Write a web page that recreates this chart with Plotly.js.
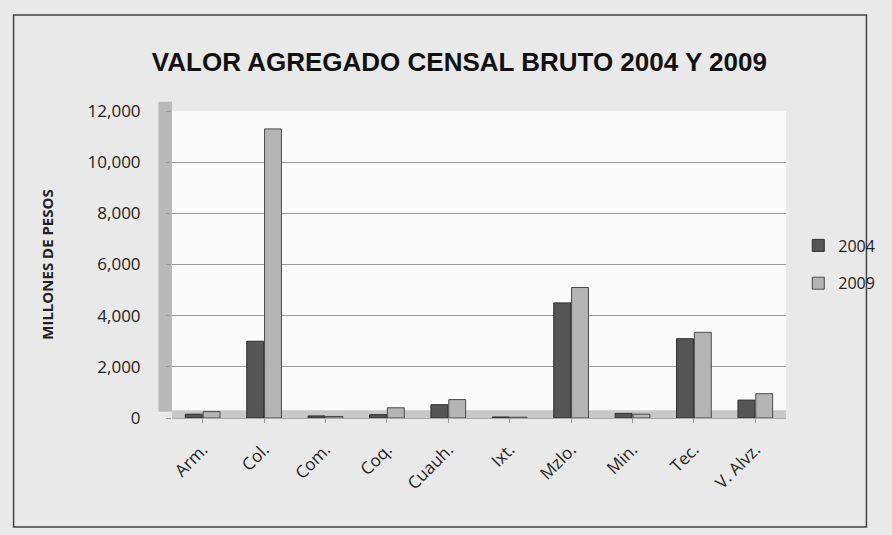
<!DOCTYPE html>
<html>
<head>
<meta charset="utf-8">
<script src="https://cdn.plot.ly/plotly-3.0.1.min.js"></script>
<style>html,body{margin:0;padding:0;background:#e9e9e9;}#chart{width:892px;height:535px;}</style>
</head>
<body>
<div id="chart"></div>
<script>
const categories = ["Arm.", "Col.", "Com.", "Coq.", "Cuauh.", "Ixt.", "Mzlo.", "Min.", "Tec.", "V. Alvz."];
const values2004 = [150, 3000, 80, 130, 520, 40, 4500, 180, 3100, 700];
const values2009 = [250, 11300, 60, 400, 720, 30, 5100, 150, 3350, 950];
const yTicks = [0, 2000, 4000, 6000, 8000, 10000, 12000];
const yTickLabels = ["0", "2,000", "4,000", "6,000", "8,000", "10,000", "12,000"];

const traces = [
  {type: "bar", name: "2004", x: categories, y: values2004, legendgroup: "a",
   marker: {color: "#555555", line: {color: "#2e2e2e", width: 1}}},
  {type: "bar", name: "2009", x: categories, y: values2009, legendgroup: "b",
   marker: {color: "#b4b4b4", line: {color: "#4a4a4a", width: 1}}}
];

const layout = {
  width: 892, height: 535,
  paper_bgcolor: "#e9e9e9",
  plot_bgcolor: "#fbfbfb",
  margin: {l: 172, r: 87, t: 111, b: 117},
  barmode: "group", bargap: 0.42, bargroupgap: 0.05,
  title: {text: "<b>VALOR AGREGADO CENSAL BRUTO 2004 Y 2009</b>",
          x: 0.515, xanchor: "center", y: 0.885, yanchor: "middle",
          font: {family: "Liberation Sans Narrow, Liberation Sans, Arial", size: 26, color: "#111"}},
  xaxis: {type: "category", tickangle: -45, showgrid: false, zeroline: false,
          tickfont: {family: "Open Sans, DejaVu Sans", size: 17, color: "#222"},
          ticklabelstandoff: 10,
          ticks: "outside", ticklen: 4, tickcolor: "#999", showline: true, linecolor: "#aaa"},
  yaxis: {range: [0, 12000], tickvals: yTicks, ticktext: yTickLabels,
          showgrid: true, gridcolor: "#9a9a9a", gridwidth: 1.2, zeroline: false,
          tickfont: {family: "Open Sans, DejaVu Sans", size: 17, color: "#222"},
          ticklabelstandoff: 22,
          ticks: "outside", ticklen: 5, tickcolor: "#999",
          title: {text: "<b>MILLONES DE PESOS</b>", standoff: 30,
                  font: {family: "Open Sans, DejaVu Sans", size: 15, color: "#222"}}},
  legend: {x: 1.02, y: 0.5, xanchor: "left", yanchor: "middle",
           bgcolor: "rgba(0,0,0,0)", font: {family: "Open Sans, DejaVu Sans", size: 16, color: "#222"},
           tracegroupgap: 14, itemwidth: 30},
  shapes: [
    {type: "rect", xref: "paper", yref: "paper", x0: -0.022, x1: 0, y0: 0.02, y1: 1.03,
     fillcolor: "#b9b9b9", line: {width: 0}, layer: "below"},
    {type: "rect", xref: "paper", yref: "paper", x0: 0, x1: 1, y0: 0, y1: 0.025,
     fillcolor: "#c8c8c8", line: {width: 0}, layer: "below"},
    {type: "rect", xref: "paper", yref: "paper", x0: -0.258, x1: 1.131, y0: -0.355, y1: 1.313,
     fillcolor: "rgba(0,0,0,0)", line: {color: "#444", width: 1.5}, layer: "below"}
  ]
};

Plotly.newPlot("chart", traces, layout, {displayModeBar: false, staticPlot: true});
</script>
</body>
</html>
